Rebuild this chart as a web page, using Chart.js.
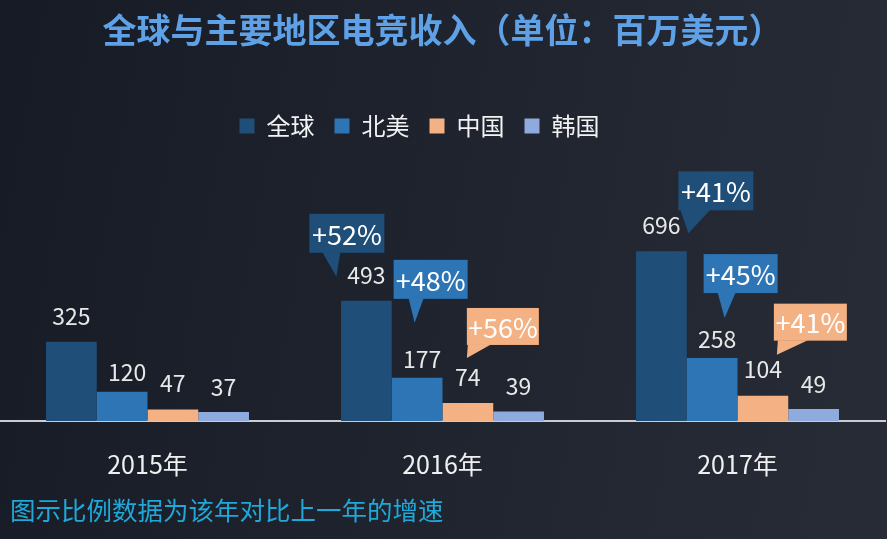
<!DOCTYPE html>
<html>
<head>
<meta charset="utf-8">
<script src="https://cdn.jsdelivr.net/npm/chart.js@4.4.1/dist/chart.umd.min.js"></script>
<style>
  html, body { margin: 0; padding: 0; background: #1c212b; overflow: hidden; }
  #wrap { position: relative; width: 887px; height: 539px; }
</style>
</head>
<body>
<div id="wrap"><canvas id="c"></canvas></div>
<script>
// ---- data ----
const categories = ['2015年', '2016年', '2017年'];
const seriesNames = ['全球', '北美', '中国', '韩国'];
const globalValues = [325, 493, 696];
const northAmericaValues = [120, 177, 258];
const chinaValues = [47, 74, 104];
const koreaValues = [37, 39, 49];
// year-over-year growth shown in callouts (%), null = no callout
const globalGrowth = [null, 52, 41];
const northAmericaGrowth = [null, 48, 45];
const chinaGrowth = [null, 56, 41];
const koreaGrowth = [null, null, null];
const titleText = '全球与主要地区电竞收入（单位：百万美元）';
const noteText = '图示比例数据为该年对比上一年的增速';

// ---- styles ----
const colors = ['#1f4e79', '#2e75b6', '#f4b183', '#8faadc'];
const FONT = '"Noto Sans CJK SC", "Noto Sans", sans-serif';
Chart.defaults.font.family = FONT;

// callout geometry relative to bar top-centre (style/layout only)
const calloutLayout = {
  '0-1': {bx: -57, by: -87, w: 75, h: 39, t1: 13, t2: 31, tx: -30, ty: -24},
  '1-1': {bx: -23.5, by: -118, w: 74, h: 39, t1: 15, t2: 30, tx: -2.5, ty: -55},
  '2-1': {bx: -1, by: -95, w: 72, h: 37, t1: 1, t2: 24, tx: -1, ty: -45},
  '0-2': {bx: 17, by: -80, w: 75, h: 39, t1: 2, t2: 32, tx: 27, ty: -18},
  '1-2': {bx: -8.5, by: -104, w: 74, h: 39, t1: 14, t2: 32, tx: 12.5, ty: -40},
  '2-2': {bx: 11, by: -92, w: 73, h: 37, t1: 4, t2: 34, tx: 14, ty: -41}
};
const labelOffset = [26, 19, 26, 25];
const labelDx = [0, 5, 0, 0];

const bgPlugin = {
  id: 'bg',
  beforeDraw(chart) {
    const {ctx, width, height} = chart;
    const g = ctx.createLinearGradient(0, 0, width, height * 0.3);
    g.addColorStop(0, '#161b25');
    g.addColorStop(1, '#262b36');
    ctx.save();
    ctx.fillStyle = g;
    ctx.fillRect(0, 0, width, height);
    ctx.restore();
  }
};

const shiftPlugin = {
  id: 'shift',
  afterLayout(chart) {
    if (chart.legend) { chart.legend.left -= 23; chart.legend.right -= 23; }
  }
};

const growthSets = [globalGrowth, northAmericaGrowth, chinaGrowth, koreaGrowth];

const labelPlugin = {
  id: 'labels',
  afterDatasetsDraw(chart) {
    const ctx = chart.ctx;
    ctx.save();
    // value labels
    ctx.font = '23px ' + FONT;
    ctx.fillStyle = '#e8e8e8';
    ctx.textAlign = 'center';
    ctx.textBaseline = 'middle';
    chart.data.datasets.forEach((ds, di) => {
      const meta = chart.getDatasetMeta(di);
      meta.data.forEach((bar, i) => {
        ctx.fillText(String(ds.data[i]), bar.x + labelDx[di], bar.y - labelOffset[di]);
      });
    });
    // growth callouts
    growthSets.forEach((arr, di) => {
      const meta = chart.getDatasetMeta(di);
      arr.forEach((g, i) => {
        if (g === null) return;
        const L = calloutLayout[di + '-' + i];
        if (!L) return;
        const bar = meta.data[i];
        const bx = bar.x + L.bx, by = bar.y + L.by;
        ctx.fillStyle = colors[di];
        ctx.fillRect(bx, by, L.w, L.h);
        ctx.beginPath();
        ctx.moveTo(bx + L.t1, by + L.h - 0.5);
        ctx.lineTo(bx + L.t2, by + L.h - 0.5);
        ctx.lineTo(bar.x + L.tx, bar.y + L.ty);
        ctx.closePath();
        ctx.fill();
        ctx.fillStyle = '#ffffff';
        ctx.font = '27px ' + FONT;
        ctx.fillText('+' + g + '%', bx + L.w / 2, by + L.h / 2 + 1);
      });
    });
    ctx.restore();
  },
  afterDraw(chart) {
    const ctx = chart.ctx;
    ctx.save();
    ctx.font = '25.5px ' + FONT;
    ctx.fillStyle = '#1fa8d8';
    ctx.textAlign = 'left';
    ctx.textBaseline = 'middle';
    ctx.fillText(noteText, 10, 510);
    ctx.restore();
  }
};

const valueSets = [globalValues, northAmericaValues, chinaValues, koreaValues];

new Chart(document.getElementById('c'), {
  type: 'bar',
  data: {
    labels: categories,
    datasets: seriesNames.map((name, i) => ({
      label: name,
      data: valueSets[i],
      backgroundColor: colors[i],
      borderWidth: 0,
      categoryPercentage: 0.688,
      barPercentage: 1.0
    }))
  },
  options: {
    responsive: true,
    maintainAspectRatio: false,
    animation: false,
    layout: { padding: { left: 0, right: 2, top: 0, bottom: 0 } },
    plugins: {
      title: {
        display: true,
        text: titleText,
        color: '#5ea1e6',
        font: { size: 34, weight: 'bold', family: FONT },
        padding: { top: 9.6, bottom: 43.6 }
      },
      legend: {
        display: true,
        position: 'top',
        labels: {
          color: '#f2f2f2',
          font: { size: 24, family: FONT },
          boxWidth: 15,
          boxHeight: 15,
          padding: 20
        }
      },
      tooltip: { enabled: false }
    },
    scales: {
      x: {
        grid: { display: false, drawTicks: false },
        border: { display: true, color: '#c9ccd3', width: 2 },
        ticks: { color: '#f0f0f0', font: { size: 25, family: FONT }, padding: 28 },
        afterFit(scale) { scale.height = 118; }
      },
      y: {
        display: false,
        min: 0,
        max: 1120
      }
    }
  },
  plugins: [bgPlugin, shiftPlugin, labelPlugin]
});
</script>
</body>
</html>
